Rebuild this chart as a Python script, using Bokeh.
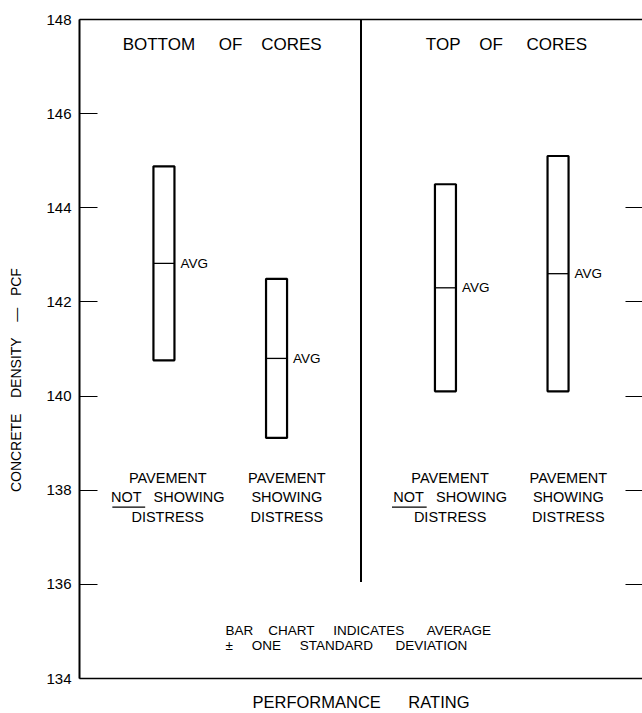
from bokeh.plotting import figure
from bokeh.models import Range1d, LinearAxis, FixedTicker, ColumnDataSource
from bokeh.core.properties import value
from bokeh.embed import file_html
from bokeh.resources import INLINE

NB = "\u00a0"

# ---- data ----
panels = ["BOTTOM" + NB * 5 + "OF" + NB * 4 + "CORES", "TOP" + NB * 4 + "OF" + NB * 5 + "CORES"]
panel_x = [1.52, 4.55]
bar_x = [0.9, 2.1, 3.9, 5.1]
avg = [142.82, 140.80, 142.30, 142.60]
sd = [2.06, 1.69, 2.20, 2.50]
cat_line1 = ["PAVEMENT", "PAVEMENT", "PAVEMENT", "PAVEMENT"]
cat_line2 = ["NOT" + NB * 3 + "SHOWING", "SHOWING", "NOT" + NB * 3 + "SHOWING", "SHOWING"]
cat_line3 = ["DISTRESS", "DISTRESS", "DISTRESS", "DISTRESS"]
label_x = [0.94, 2.21, 3.95, 5.21]
y_ticks = [134, 136, 138, 140, 142, 144, 146, 148]
right_ticks = [136, 138, 140, 142, 144]

FONT = value("Liberation Sans")
BW = 0.224

p = figure(width=642, height=713, x_range=Range1d(0, 6), y_range=Range1d(134, 148),
           output_backend="svg", toolbar_location=None,
           min_border_left=79, min_border_top=19, min_border_right=0, min_border_bottom=35)
p.outline_line_color = None
p.grid.visible = False
p.background_fill_color = "white"
p.border_fill_color = "white"

# left axis
ya = p.yaxis[0]
ya.ticker = FixedTicker(ticks=y_ticks)
ya.major_tick_in = 18
ya.major_tick_out = 0
ya.minor_tick_line_color = None
ya.major_tick_line_width = 1.2
ya.axis_line_width = 2
ya.major_label_text_font = "Liberation Sans"
ya.major_label_text_font_size = "15px"
ya.major_label_text_color = "black"
ya.major_label_standoff = 8
ya.axis_label = ("CONCRETE" + NB * 4 + "DENSITY" + NB * 4 + "\u2014" + NB * 3 + "PCF" + NB * 16)
ya.axis_label_text_font = "Liberation Sans"
ya.axis_label_text_font_style = "normal"
ya.axis_label_text_font_size = "14px"
ya.axis_label_text_color = "black"
ya.axis_label_standoff = 19

# bottom axis
xa = p.xaxis[0]
xa.ticker = FixedTicker(ticks=[])
xa.major_tick_in = 0
xa.major_tick_out = 0
xa.minor_tick_line_color = None
xa.major_label_standoff = 0
xa.axis_line_width = 1.5
xa.axis_label = "PERFORMANCE" + NB * 6 + "RATING"
xa.axis_label_text_font = "Liberation Sans"
xa.axis_label_text_font_style = "normal"
xa.axis_label_text_font_size = "16.5px"
xa.axis_label_text_color = "black"
xa.axis_label_standoff = 14

# top axis (frame line only)
ta = LinearAxis(ticker=FixedTicker(ticks=[]), major_label_standoff=0,
                major_tick_in=0, major_tick_out=0,
                minor_tick_line_color=None, axis_line_width=1.5)
p.add_layout(ta, "above")

# right axis (inward ticks only)
ra = LinearAxis(ticker=FixedTicker(ticks=right_ticks),
                major_label_overrides={t: "" for t in right_ticks},
                major_label_standoff=0, major_tick_in=17, major_tick_out=0,
                minor_tick_line_color=None, axis_line_color=None, major_tick_line_width=1.2)
p.add_layout(ra, "right")

# divider between panels
p.segment(x0=[3.0], y0=[136.05], x1=[3.0], y1=[148], line_color="black", line_width=2)

# bars: average +/- one standard deviation
src = ColumnDataSource(dict(
    left=[x - BW / 2 for x in bar_x],
    right=[x + BW / 2 for x in bar_x],
    bottom=[a - s for a, s in zip(avg, sd)],
    top=[a + s for a, s in zip(avg, sd)],
    avg=avg, x=bar_x,
))
p.quad(left="left", right="right", bottom="bottom", top="top", source=src,
       fill_color="white", line_color="black", line_width=2.2)
p.segment(x0="left", x1="right", y0="avg", y1="avg", source=src, line_color="black", line_width=1.3)
p.text(x="right", y="avg", text=value("AVG"), source=src, x_offset=6,
       text_font=FONT, text_font_size="13.5px", text_align="left", text_baseline="middle",
       text_color="black")

# panel titles
p.text(x=panel_x, y=[147.47, 147.47], text=panels, text_font=FONT, text_font_size="17px",
       text_align="center", text_baseline="middle", text_color="black")

# category labels
for lines, yy in ((cat_line1, 138.27), (cat_line2, 137.85), (cat_line3, 137.44)):
    p.text(x=label_x, y=[yy] * 4, text=lines, text_font=FONT, text_font_size="14.5px",
           text_align="center", text_baseline="middle", text_color="black")

# underline under NOT
p.segment(x0=[0.35, 3.33], x1=[0.70, 3.70], y0=[137.64, 137.64], y1=[137.64, 137.64],
          line_color="black", line_width=1.3)

# note
p.text(x=[1.556, 1.556], y=[135.02, 134.70],
       text=["BAR" + NB * 4 + "CHART" + NB * 5 + "INDICATES" + NB * 6 + "AVERAGE",
             "\u00b1" + NB * 5 + "ONE" + NB * 5 + "STANDARD" + NB * 6 + "DEVIATION"],
       text_font=FONT, text_font_size="13.5px", text_align="left", text_baseline="middle",
       text_color="black")

open("out.html", "w").write(file_html(p, INLINE))
